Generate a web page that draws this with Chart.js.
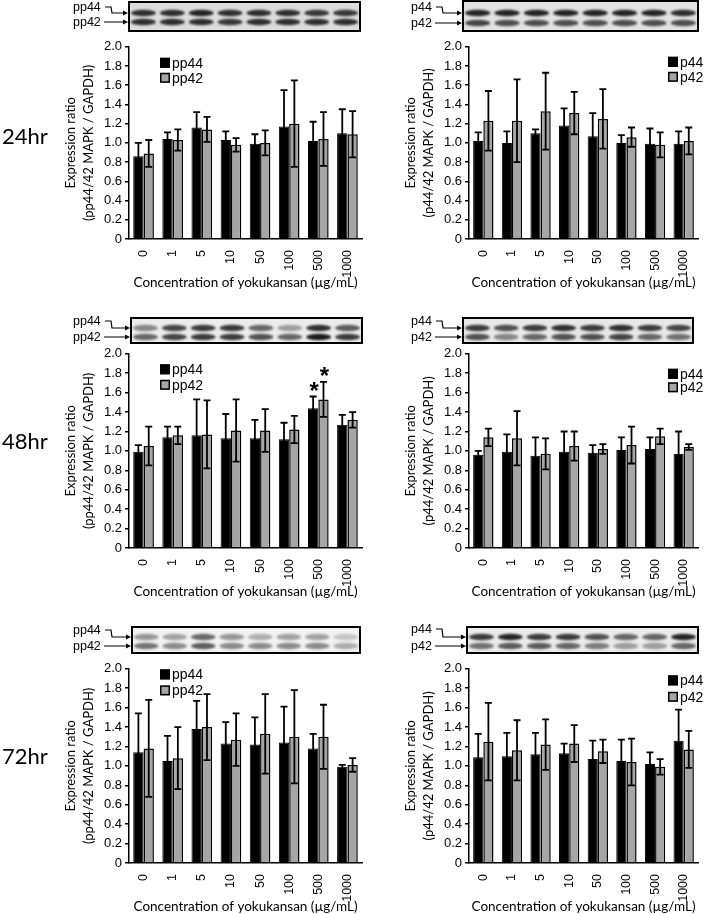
<!DOCTYPE html>
<html>
<head>
<meta charset="utf-8">
<script src="https://cdn.jsdelivr.net/npm/chart.js@4.4.1/dist/chart.umd.min.js"></script>
<style>
  body { margin: 0; width: 704px; height: 914px; position: relative; overflow: hidden; background: #fff; }
  .box { position: absolute; }
  .lbl { position: absolute; font: 12.5px "Liberation Sans", Arial, sans-serif; color: #000; line-height: 14px; }
  .time { position: absolute; font: 22px Lato, "Open Sans", sans-serif; color: #000; line-height: 26px; }
  #blots { position: absolute; left: 0; top: 0; }
</style>
</head>
<body>
<canvas id="blots" width="704" height="914"></canvas>

<div class="time" style="left:2px;top:123px">24hr</div>
<div class="time" style="left:2px;top:428px">48hr</div>
<div class="time" style="left:2px;top:743px">72hr</div>

<div class="box" style="left:60px;top:36px;width:310px;height:259px"><canvas id="c1"></canvas></div>
<div class="box" style="left:400px;top:36px;width:304px;height:259px"><canvas id="c2"></canvas></div>
<div class="box" style="left:60px;top:343px;width:310px;height:261px"><canvas id="c3"></canvas></div>
<div class="box" style="left:400px;top:343px;width:304px;height:261px"><canvas id="c4"></canvas></div>
<div class="box" style="left:60px;top:658px;width:310px;height:261px"><canvas id="c5"></canvas></div>
<div class="box" style="left:400px;top:658px;width:304px;height:261px"><canvas id="c6"></canvas></div>

<script>
var doses = ['0', '1', '5', '10', '50', '100', '500', '1000'];

// 24hr, phosphorylated
var pp44_24 = [0.86, 1.04, 1.16, 1.03, 0.99, 1.17, 1.02, 1.10];
var pp44_24_sd = [0.14, 0.07, 0.16, 0.09, 0.10, 0.38, 0.20, 0.25];
var pp42_24 = [0.89, 1.03, 1.14, 0.98, 1.00, 1.20, 1.04, 1.09];
var pp42_24_sd = [0.14, 0.11, 0.13, 0.07, 0.13, 0.45, 0.28, 0.24];
// 24hr, total
var p44_24 = [1.02, 1.00, 1.10, 1.18, 1.07, 1.00, 0.99, 0.99];
var p44_24_sd = [0.09, 0.12, 0.04, 0.18, 0.24, 0.08, 0.16, 0.13];
var p42_24 = [1.23, 1.23, 1.33, 1.31, 1.25, 1.06, 0.98, 1.02];
var p42_24_sd = [0.31, 0.43, 0.40, 0.22, 0.31, 0.10, 0.13, 0.14];

// 48hr
var pp44_48 = [0.99, 1.14, 1.16, 1.13, 1.13, 1.12, 1.44, 1.27];
var pp44_48_sd = [0.07, 0.11, 0.37, 0.25, 0.19, 0.17, 0.12, 0.10];
var pp42_48 = [1.05, 1.16, 1.17, 1.21, 1.21, 1.22, 1.53, 1.32];
var pp42_48_sd = [0.20, 0.09, 0.35, 0.32, 0.22, 0.14, 0.18, 0.08];
var p44_48 = [0.96, 0.99, 0.95, 0.99, 0.98, 1.01, 1.02, 0.97];
var p44_48_sd = [0.04, 0.18, 0.19, 0.21, 0.08, 0.13, 0.12, 0.23];
var p42_48 = [1.14, 1.13, 0.97, 1.05, 1.02, 1.06, 1.15, 1.04];
var p42_48_sd = [0.09, 0.28, 0.16, 0.15, 0.05, 0.19, 0.08, 0.03];

// 72hr
var pp44_72 = [1.14, 1.05, 1.38, 1.23, 1.22, 1.24, 1.18, 0.99];
var pp44_72_sd = [0.40, 0.26, 0.29, 0.22, 0.28, 0.37, 0.15, 0.02];
var pp42_72 = [1.18, 1.08, 1.40, 1.27, 1.33, 1.30, 1.30, 1.01];
var pp42_72_sd = [0.50, 0.32, 0.34, 0.27, 0.41, 0.48, 0.33, 0.07];
var p44_72 = [1.09, 1.10, 1.12, 1.13, 1.07, 1.05, 1.02, 1.26];
var p44_72_sd = [0.24, 0.24, 0.22, 0.10, 0.19, 0.22, 0.12, 0.32];
var p42_72 = [1.25, 1.16, 1.22, 1.23, 1.15, 1.04, 0.99, 1.17];
var p42_72_sd = [0.40, 0.31, 0.26, 0.19, 0.12, 0.24, 0.08, 0.19];

// significant vs control (48hr pp, 500 ug/mL)
var starsPP48 = [6];

// band darkness in the blot strips (upper band, lower band)
var blotPP24 = [[0.85,0.85,0.9,0.85,0.85,0.85,0.8,0.8],[0.85,0.85,0.85,0.8,0.85,0.85,0.85,0.85]];
var blotP24  = [[0.9,0.9,0.9,0.9,0.9,0.9,0.9,0.85],[0.75,0.7,0.7,0.7,0.7,0.7,0.7,0.7]];
var blotPP48 = [[0.45,0.75,0.8,0.8,0.6,0.35,0.85,0.65],[0.6,0.75,0.8,0.8,0.7,0.6,0.95,0.8]];
var blotP48  = [[0.8,0.7,0.8,0.85,0.8,0.85,0.8,0.75],[0.7,0.45,0.6,0.7,0.7,0.75,0.6,0.55]];
var blotPP72 = [[0.4,0.35,0.6,0.4,0.3,0.35,0.35,0.2],[0.55,0.45,0.65,0.45,0.45,0.45,0.45,0.3]];
var blotP72  = [[0.8,0.9,0.8,0.8,0.7,0.6,0.6,0.9],[0.55,0.65,0.65,0.6,0.5,0.35,0.35,0.6]];

Chart.defaults.font.family = '"Liberation Sans", Arial, sans-serif';
Chart.defaults.color = '#000';

// error bars + asterisks drawn from the y scale
var errorBars = {
  id: 'errorBars',
  afterDatasetsDraw: function(chart) {
    var ctx = chart.ctx, ys = chart.scales.y;
    chart.data.datasets.forEach(function(ds, di) {
      var meta = chart.getDatasetMeta(di);
      meta.data.forEach(function(bar, i) {
        var top = ys.getPixelForValue(ds.data[i] + ds.sd[i]);
        var bot = ys.getPixelForValue(ds.data[i] - ds.sd[i]);
        ctx.save();
        ctx.strokeStyle = '#000';
        ctx.lineWidth = 1.8;
        ctx.beginPath();
        ctx.moveTo(bar.x, top); ctx.lineTo(bar.x, bot);
        ctx.moveTo(bar.x - 3.5, top); ctx.lineTo(bar.x + 3.5, top);
        ctx.moveTo(bar.x - 3.5, bot); ctx.lineTo(bar.x + 3.5, bot);
        ctx.stroke();
        if (ds.stars && ds.stars.indexOf(i) >= 0) {
          ctx.fillStyle = '#000';
          ctx.font = 'bold 24px "Liberation Sans", Arial';
          ctx.textAlign = 'center';
          ctx.textBaseline = 'alphabetic';
          ctx.fillText('*', bar.x + 1, top + 2);
        }
        ctx.restore();
      });
    });
  }
};

// small square legend inside plot
var boxLegend = {
  id: 'boxLegend',
  afterDraw: function(chart, args, opts) {
    var a = chart.chartArea, ctx = chart.ctx;
    ctx.save();
    chart.data.datasets.forEach(function(ds, i) {
      var x = a.left + opts.dx, y = a.top + opts.dy[i];
      ctx.fillStyle = ds.backgroundColor;
      ctx.fillRect(x, y - 5, 10, 10);
      ctx.strokeStyle = '#000';
      ctx.lineWidth = 1.5;
      ctx.strokeRect(x + 0.75, y - 4.25, 8.5, 8.5);
      ctx.fillStyle = '#000';
      ctx.font = '14px "Liberation Sans", Arial';
      ctx.textBaseline = 'middle';
      ctx.textAlign = 'left';
      ctx.fillText(ds.label, x + 12, y + 1);
    });
    ctx.restore();
  }
};

function makechart(id, names, a, aSd, b, bSd, yLabel, legend, padRight, stars) {
  var ctx = document.getElementById(id).getContext('2d');
  return new Chart(ctx, {
    type: 'bar',
    data: {
      labels: doses,
      datasets: [{
        label: names[0], data: a, sd: aSd, stars: stars,
        backgroundColor: '#000', borderColor: '#000', borderWidth: 1
      }, {
        label: names[1], data: b, sd: bSd, stars: stars,
        backgroundColor: '#a6a6a6', borderColor: '#000', borderWidth: 1.5
      }]
    },
    plugins: [errorBars, boxLegend],
    options: {
      responsive: true,
      maintainAspectRatio: false,
      animation: false,
      categoryPercentage: 0.71,
      barPercentage: 1,
      layout: { padding: { top: 10, right: padRight, left: 0, bottom: 0 } },
      plugins: {
        legend: { display: false },
        tooltip: { enabled: false },
        boxLegend: legend
      },
      scales: {
        x: {
          grid: { display: false },
          border: { color: '#000', width: 1.5 },
          ticks: { minRotation: 90, maxRotation: 90, padding: 3, font: { size: 12.5 } },
          title: {
            display: true, text: 'Concentration of yokukansan (\u00b5g/mL)',
            font: { family: 'Lato, "Open Sans", sans-serif', size: 13.5 }, padding: { top: 2, bottom: 4 }
          },
          afterFit: function(s) { s.height = 56; }
        },
        y: {
          min: 0, max: 2,
          grid: { drawOnChartArea: false, color: '#000', tickLength: 4, lineWidth: 1.5 },
          border: { color: '#000', width: 1.5 },
          ticks: {
            stepSize: 0.2, padding: 3, font: { size: 13 },
            callback: function(v) { return v === 0 ? '0' : v.toFixed(1); }
          },
          title: {
            display: true, text: ['Expression ratio', yLabel],
            font: { family: 'Lato, "Open Sans", sans-serif', size: 13, lineHeight: 1.35 },
            padding: { top: 2, bottom: 0 }
          },
          afterFit: function(s) { s.width = 69; }
        }
      }
    }
  });
}

var ppLabel = '(pp44/42 MAPK / GAPDH)';
var pLabel = '(p44/42 MAPK / GAPDH)';
makechart('c1', ['pp44', 'pp42'], pp44_24, pp44_24_sd, pp42_24, pp42_24_sd, ppLabel, { dx: 31, dy: [16, 31] }, 8, []);
makechart('c2', ['p44', 'p42'], p44_24, p44_24_sd, p42_24, p42_24_sd, pLabel, { dx: 199, dy: [15, 30] }, 6, []);
makechart('c3', ['pp44', 'pp42'], pp44_48, pp44_48_sd, pp42_48, pp42_48_sd, ppLabel, { dx: 31, dy: [15.5, 31] }, 8, starsPP48);
makechart('c4', ['p44', 'p42'], p44_48, p44_48_sd, p42_48, p42_48_sd, pLabel, { dx: 199, dy: [20, 33.5] }, 6, []);
makechart('c5', ['pp44', 'pp42'], pp44_72, pp44_72_sd, pp42_72, pp42_72_sd, ppLabel, { dx: 31, dy: [5.6, 21.6] }, 8, []);
makechart('c6', ['p44', 'p42'], p44_72, p44_72_sd, p42_72, p42_72_sd, pLabel, { dx: 199, dy: [11.6, 28] }, 6, []);

// western blot strips with their arrows
var blots = [
  { x: 129, y: 2, w: 231, h: 29, bg: '#dcdcdc', bands: blotPP24, names: ['pp44', 'pp42'], tx: 73, y1: 7, bend: 13, y2: 22 },
  { x: 463, y: 1, w: 235, h: 30, bg: '#e2e2e2', bands: blotP24, names: ['p44', 'p42'], tx: 411, y1: 7, bend: 13, y2: 23 },
  { x: 131, y: 318, w: 231, h: 25, bg: '#ececec', bands: blotPP48, names: ['pp44', 'pp42'], tx: 73, y1: 321, bend: 328, y2: 337 },
  { x: 463, y: 318, w: 230, h: 25, bg: '#e8e8e8', bands: blotP48, names: ['p44', 'p42'], tx: 411, y1: 321, bend: 328, y2: 337 },
  { x: 132, y: 627, w: 228, h: 26, bg: '#f2f2f2', bands: blotPP72, names: ['pp44', 'pp42'], tx: 73, y1: 630, bend: 637, y2: 646 },
  { x: 467, y: 627, w: 231, h: 26, bg: '#ebebeb', bands: blotP72, names: ['p44', 'p42'], tx: 411, y1: 629, bend: 637, y2: 646 }
];

var bc = document.getElementById('blots').getContext('2d');
blots.forEach(function(b) {
  bc.fillStyle = b.bg;
  bc.fillRect(b.x, b.y, b.w, b.h);
  var lw = b.w / 8;
  for (var i = 0; i < 8; i++) {
    var cx = b.x + (i + 0.5) * lw;
    [b.bend, b.y2].forEach(function(by, k) {
      bc.save();
      bc.filter = 'blur(1.1px)';
      bc.fillStyle = 'rgba(15,15,15,' + b.bands[k][i] + ')';
      bc.beginPath();
      bc.ellipse(cx, by, lw * 0.43, 3.3, 0, 0, Math.PI * 2);
      bc.fill();
      bc.restore();
    });
  }
  bc.strokeStyle = '#000';
  bc.lineWidth = 2;
  bc.strokeRect(b.x, b.y, b.w, b.h);

  // arrows
  var sx = b.tx + (b.names[0].length === 4 ? 32 : 25);
  bc.lineWidth = 1.2;
  bc.beginPath();
  bc.moveTo(sx, b.y1); bc.lineTo(sx + 6, b.y1); bc.lineTo(sx + 7, b.bend); bc.lineTo(b.x - 4, b.bend);
  bc.moveTo(sx - 1, b.y2); bc.lineTo(b.x - 4, b.y2);
  bc.stroke();
  [b.bend, b.y2].forEach(function(ay) {
    bc.fillStyle = '#000';
    bc.beginPath();
    bc.moveTo(b.x - 1, ay); bc.lineTo(b.x - 6, ay - 2.5); bc.lineTo(b.x - 6, ay + 2.5);
    bc.closePath(); bc.fill();
  });

  b.names.forEach(function(n, k) {
    var d = document.createElement('div');
    d.className = 'lbl';
    d.textContent = n;
    d.style.left = b.tx + 'px';
    d.style.top = ((k === 0 ? b.y1 : b.y2) - 7) + 'px';
    document.body.appendChild(d);
  });
});
</script>
</body>
</html>
